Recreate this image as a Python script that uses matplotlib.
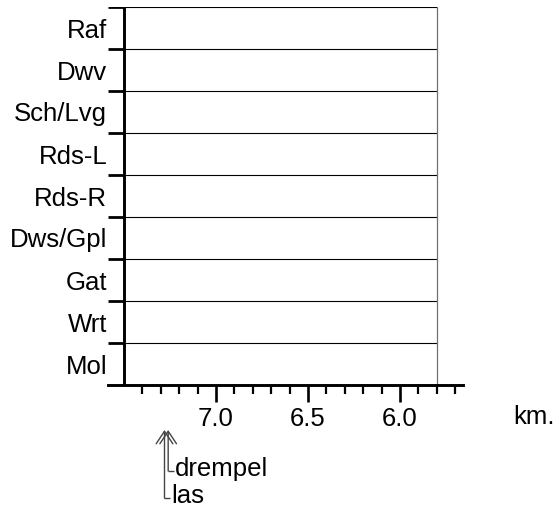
import matplotlib
matplotlib.use("Agg")
import matplotlib.pyplot as plt
from matplotlib.ticker import FixedLocator

plt.rcParams['font.family'] = ['Liberation Sans', 'DejaVu Sans']

# Lanes, listed from top to bottom
lanes = ["Raf", "Dwv", "Sch/Lvg", "Rds-L", "Rds-R", "Dws/Gpl", "Gat", "Wrt", "Mol"]

# Route section in km (decreasing to the right)
km_start = 7.5
km_end = 5.8

# Labelled kilometre marks and the 100 m marks
km_major = [7.0, 6.5, 6.0]
km_minor = [7.4, 7.3, 7.2, 7.1, 7.0, 6.9, 6.8, 6.7, 6.6, 6.5,
            6.4, 6.3, 6.2, 6.1, 6.0, 5.9, 5.8, 5.7]

# Point features along the route
feature_names = ["las", "drempel"]
feature_km = [7.28, 7.26]

FS = 18.5

W, H = 560, 515
fig = plt.figure(figsize=(W / 100, H / 100), dpi=100)
ax_left, ax_right, ax_top, ax_bottom = 108, 463, 7, 385
ax = fig.add_axes([ax_left / W, (H - ax_bottom) / H,
                   (ax_right - ax_left) / W, (ax_bottom - ax_top) / H])

ax.set_xlim(7.587, 5.658)
n = len(lanes)
ax.set_ylim(0, n)

for side in ("left", "right", "top"):
    ax.spines[side].set_visible(False)
ax.spines["bottom"].set_linewidth(2.1)

# Lane separators, frame and boundary ticks on the left
for b in range(1, n + 1):
    ax.plot([km_start, km_end], [b, b], color="black", lw=0.8, solid_capstyle="butt")
    ax.plot([ax.get_xlim()[0], km_start], [b, b], color="black", lw=2.0,
            solid_capstyle="butt")
ax.plot([km_start, km_start], [0, n], color="black", lw=2.1, solid_capstyle="butt")
ax.plot([km_end, km_end], [0, n], color="#707070", lw=0.9, solid_capstyle="butt")

# Lane names
ax.set_yticks([n - i - 0.5 for i in range(n)])
ax.set_yticklabels(lanes, fontsize=FS)
ax.tick_params(axis="y", length=0, pad=0.5)

# Kilometre axis
ax.xaxis.set_major_locator(FixedLocator(km_major))
ax.set_xticklabels([f"{v:.1f}" for v in km_major], fontsize=FS)
ax.xaxis.set_minor_locator(FixedLocator(km_minor))
ax.tick_params(axis="x", which="major", length=12, width=1.9, direction="out", pad=3.5)
ax.tick_params(axis="x", which="minor", length=6.5, width=1.6, direction="out")

fig.text(534 / W, 1 - 417 / H, "km.", fontsize=FS, ha="center", va="center")

# Feature markers below the axis, each with a hooked leader to its label
trans = ax.get_xaxis_transform()
px = 1 / (ax_bottom - ax_top)
arrow_top = -(430 - ax_bottom) * px
label_y = {"drempel": -(471 - ax_bottom) * px, "las": -(498 - ax_bottom) * px}
hook = 6 / 184
for name, km in zip(feature_names, feature_km):
    y0 = label_y[name]
    ax.annotate("", xy=(km, arrow_top), xytext=(km, y0), xycoords=trans,
                textcoords=trans,
                arrowprops=dict(arrowstyle="->,head_length=0.45,head_width=0.3",
                                color="#444444", lw=1.0,
                                shrinkA=0, shrinkB=0, mutation_scale=20),
                annotation_clip=False)
    ax.plot([km, km - hook], [y0, y0], color="#444444", lw=1.0,
            transform=trans, clip_on=False, solid_capstyle="butt")
    ax.text(km - hook - 0.004, y0 + 2 * px, name, transform=trans, fontsize=FS,
            ha="left", va="center", clip_on=False)

fig.savefig("out.png", dpi=100, facecolor="white")
